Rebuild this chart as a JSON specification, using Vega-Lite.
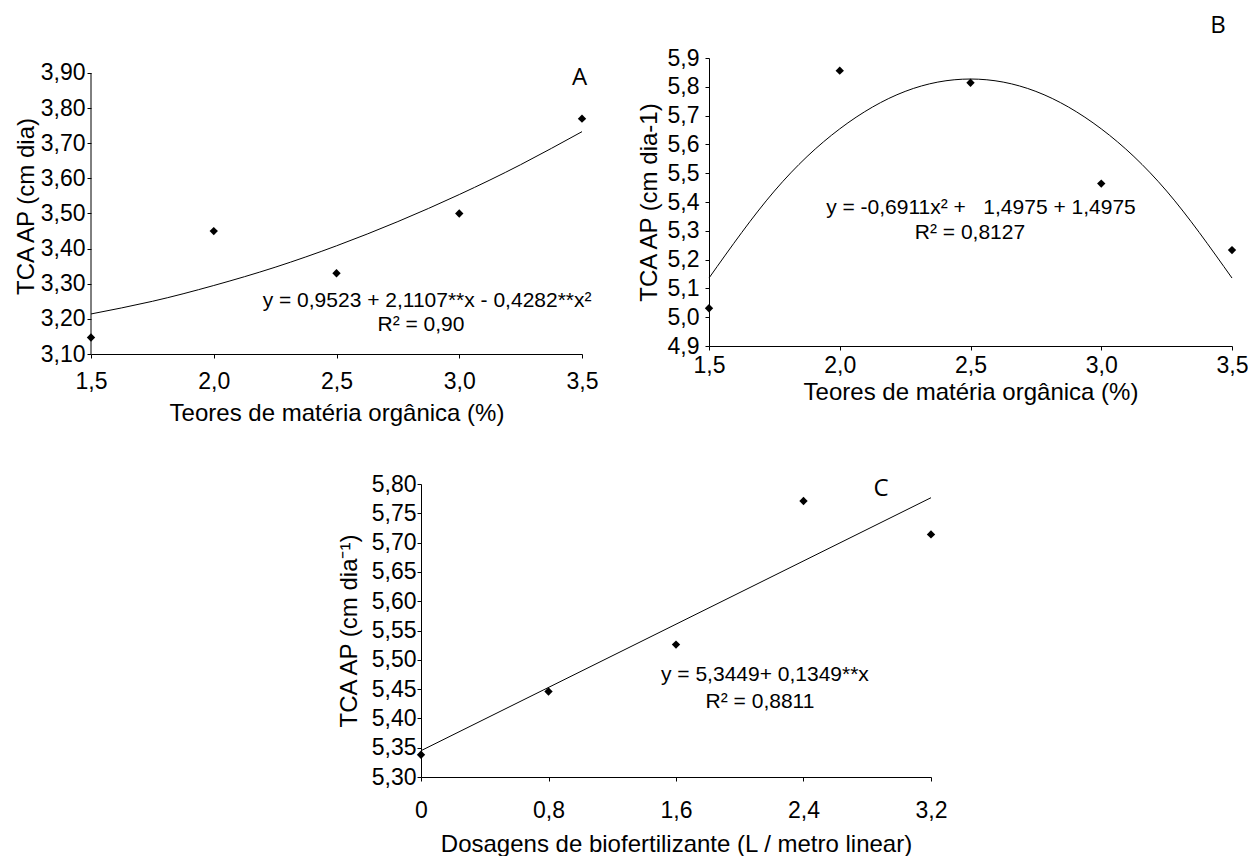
{
  "$schema": "https://vega.github.io/schema/vega-lite/v6.json",
  "background": "white",
  "padding": {"left": 14, "top": 14, "right": 0, "bottom": 0},
  "config": {
    "font": "Liberation Sans",
    "view": {"stroke": null},
    "axis": {"domainColor": "black", "tickColor": "black", "labelColor": "black", "titleColor": "black", "grid": false, "labelFont": "Liberation Sans", "titleFont": "Liberation Sans", "titleFontWeight": "normal", "labelFontSize": 23, "titleFontSize": 24, "tickSize": 4, "domainWidth": 1, "labelFlush": false, "labelOverlap": false}
  },
  "datasets": {
    "axisA": [{"x": 1.5, "y": 3.1, "y2": 3.9}],
    "ptsA": [{"x": 1.5, "y": 3.147}, {"x": 2.0, "y": 3.45}, {"x": 2.5, "y": 3.33}, {"x": 3.0, "y": 3.5}, {"x": 3.5, "y": 3.77}],
    "fitA": [{"x": 1.5, "y": 3.214}, {"x": 1.75, "y": 3.25}, {"x": 2.0, "y": 3.295}, {"x": 2.25, "y": 3.347}, {"x": 2.5, "y": 3.408}, {"x": 2.75, "y": 3.477}, {"x": 3.0, "y": 3.554}, {"x": 3.25, "y": 3.639}, {"x": 3.5, "y": 3.733}],
    "txtA": [{"x": 2.869, "y": 3.251, "label": "y = 0,9523 + 2,1107**x - 0,4282**x²"}, {"x": 2.844, "y": 3.183, "label": "R² = 0,90"}],
    "tagA": [{"x": 3.49, "y": 3.886, "label": "A"}],
    "ptsB": [{"x": 1.5, "y": 5.031}, {"x": 2.0, "y": 5.856}, {"x": 2.5, "y": 5.814}, {"x": 3.0, "y": 5.464}, {"x": 3.5, "y": 5.233}],
    "fitB": [{"x": 1.5, "y": 5.136}, {"x": 1.75, "y": 5.438}, {"x": 2.0, "y": 5.654}, {"x": 2.25, "y": 5.784}, {"x": 2.5, "y": 5.827}, {"x": 2.75, "y": 5.784}, {"x": 3.0, "y": 5.654}, {"x": 3.25, "y": 5.438}, {"x": 3.5, "y": 5.136}],
    "txtB": [{"x": 2.54, "y": 5.379, "label": "y = -0,6911x² + \u00a0\u00a01,4975 + 1,4975"}, {"x": 2.498, "y": 5.292, "label": "R² = 0,8127"}],
    "tagB": [{"x": 3.446, "y": 6.011, "label": "B"}],
    "ptsC": [{"x": 0, "y": 5.338}, {"x": 0.8, "y": 5.446}, {"x": 1.6, "y": 5.526}, {"x": 2.4, "y": 5.771}, {"x": 3.2, "y": 5.714}],
    "fitC": [{"x": 0, "y": 5.3449}, {"x": 3.2, "y": 5.7766}],
    "txtC": [{"x": 2.158, "y": 5.474, "label": "y = 5,3449+ 0,1349**x"}, {"x": 2.127, "y": 5.428, "label": "R²  = 0,8811"}],
    "tagC": [{"x": 2.886, "y": 5.791, "label": "C"}]
  },
  "spacing": 48,
  "vconcat": [
    {
      "spacing": 39,
      "hconcat": [
        {
          "width": 491,
          "height": 296,
          "encoding": {
            "x": {"field": "x", "type": "quantitative", "scale": {"domain": [1.5, 3.5], "nice": false}, "axis": {"values": [1.5, 2, 2.5, 3, 3.5], "labelExpr": "replace(format(datum.value,'.1f'),'.',',')", "title": "Teores de matéria orgânica (%)", "labelPadding": 12, "titlePadding": 8}},
            "y": {"field": "y", "type": "quantitative", "scale": {"domain": [3.1, 3.9427], "nice": false}, "axis": {"values": [3.1, 3.2, 3.3, 3.4, 3.5, 3.6, 3.7, 3.8, 3.9], "labelExpr": "replace(format(datum.value,'.2f'),'.',',')", "title": "TCA AP (cm dia)", "labelPadding": 2, "titlePadding": 2, "domain": false}}
          },
          "layer": [
            {"data": {"name": "axisA"}, "mark": {"type": "rule", "color": "black", "strokeWidth": 1}, "encoding": {"y2": {"field": "y2"}}},
            {"data": {"name": "fitA"}, "mark": {"type": "line", "color": "black", "strokeWidth": 1, "interpolate": "natural"}},
            {"data": {"name": "ptsA"}, "mark": {"type": "point", "shape": "diamond", "filled": true, "color": "black", "size": 70, "opacity": 1}},
            {"data": {"name": "txtA"}, "mark": {"type": "text", "fontSize": 21, "color": "black", "align": "center", "baseline": "middle"}, "encoding": {"text": {"field": "label"}}},
            {"data": {"name": "tagA"}, "mark": {"type": "text", "fontSize": 24, "font": "Open Sans", "color": "black", "align": "center", "baseline": "middle"}, "encoding": {"text": {"field": "label"}}}
          ]
        },
        {
          "width": 523,
          "height": 288,
          "encoding": {
            "x": {"field": "x", "type": "quantitative", "scale": {"domain": [1.5, 3.5], "nice": false}, "axis": {"values": [1.5, 2, 2.5, 3, 3.5], "labelExpr": "replace(format(datum.value,'.1f'),'.',',')", "title": "Teores de matéria orgânica (%)", "labelPadding": 4, "titlePadding": 3}},
            "y": {"field": "y", "type": "quantitative", "scale": {"domain": [4.9, 5.9], "nice": false}, "axis": {"values": [4.9, 5.0, 5.1, 5.2, 5.3, 5.4, 5.5, 5.6, 5.7, 5.8, 5.9], "labelExpr": "replace(format(datum.value,'.1f'),'.',',')", "title": "TCA AP (cm dia-1)", "labelPadding": 6, "titlePadding": 6}}
          },
          "layer": [
            {"data": {"name": "fitB"}, "mark": {"type": "line", "color": "black", "strokeWidth": 1, "interpolate": "natural"}},
            {"data": {"name": "ptsB"}, "mark": {"type": "point", "shape": "diamond", "filled": true, "color": "black", "size": 70, "opacity": 1}},
            {"data": {"name": "txtB"}, "mark": {"type": "text", "fontSize": 21, "color": "black", "align": "center", "baseline": "middle"}, "encoding": {"text": {"field": "label"}}},
            {"data": {"name": "tagB"}, "mark": {"type": "text", "fontSize": 24, "font": "Open Sans", "color": "black", "align": "center", "baseline": "middle"}, "encoding": {"text": {"field": "label"}}}
          ]
        }
      ]
    },
    {
      "spacing": 46,
      "hconcat": [
        {"width": 200, "height": 1, "data": {"values": []}, "mark": "point"},
        {
          "width": 510,
          "height": 293,
          "encoding": {
            "x": {"field": "x", "type": "quantitative", "scale": {"domain": [0, 3.2], "nice": false}, "axis": {"values": [0, 0.8, 1.6, 2.4, 3.2], "labelExpr": "datum.value == 0 ? '0' : replace(format(datum.value,'.1f'),'.',',')", "title": "Dosagens de biofertilizante (L / metro linear)", "labelPadding": 18, "titlePadding": 10}},
            "y": {"field": "y", "type": "quantitative", "scale": {"domain": [5.3, 5.8], "nice": false}, "axis": {"values": [5.3, 5.35, 5.4, 5.45, 5.5, 5.55, 5.6, 5.65, 5.7, 5.75, 5.8], "labelExpr": "replace(format(datum.value,'.2f'),'.',',')", "title": "TCA AP (cm dia⁻¹)", "labelPadding": 1, "titlePadding": 10}}
          },
          "layer": [
            {"data": {"name": "fitC"}, "mark": {"type": "line", "color": "black", "strokeWidth": 1}},
            {"data": {"name": "ptsC"}, "mark": {"type": "point", "shape": "diamond", "filled": true, "color": "black", "size": 70, "opacity": 1}},
            {"data": {"name": "txtC"}, "mark": {"type": "text", "fontSize": 21, "color": "black", "align": "center", "baseline": "middle"}, "encoding": {"text": {"field": "label"}}},
            {"data": {"name": "tagC"}, "mark": {"type": "text", "fontSize": 24, "font": "Open Sans", "color": "black", "align": "center", "baseline": "middle"}, "encoding": {"text": {"field": "label"}}}
          ]
        }
      ]
    }
  ]
}
